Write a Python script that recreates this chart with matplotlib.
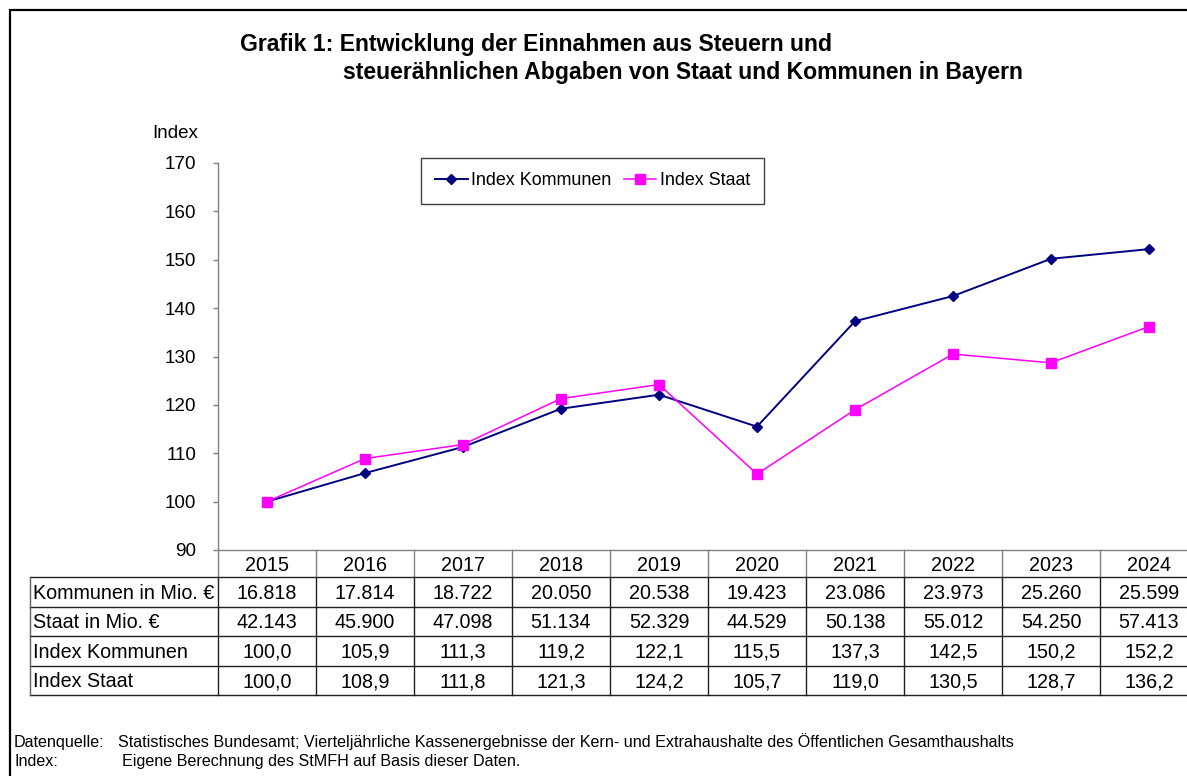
import matplotlib
matplotlib.use("Agg")
import matplotlib.pyplot as plt
from matplotlib.patches import Rectangle
from matplotlib.lines import Line2D

plt.rcParams.update({
    "font.family": ["Liberation Sans", "DejaVu Sans"],
    "font.size": 14,
})

# ── data ──────────────────────────────────────────────────────────────────────
years = [2015, 2016, 2017, 2018, 2019, 2020, 2021, 2022, 2023, 2024]
kommunen_mio = [16818, 17814, 18722, 20050, 20538, 19423, 23086, 23973, 25260, 25599]
staat_mio = [42143, 45900, 47098, 51134, 52329, 44529, 50138, 55012, 54250, 57413]
index_kommunen = [100.0, 105.9, 111.3, 119.2, 122.1, 115.5, 137.3, 142.5, 150.2, 152.2]
index_staat = [100.0, 108.9, 111.8, 121.3, 124.2, 105.7, 119.0, 130.5, 128.7, 136.2]
row_labels = ["Kommunen in Mio. €", "Staat in Mio. €", "Index Kommunen", "Index Staat"]
yticks = [90, 100, 110, 120, 130, 140, 150, 160, 170]


def fmt_mio(v):
    return f"{v:,}".replace(",", ".")


def fmt_idx(v):
    return f"{v:.1f}".replace(".", ",")


table_rows = [
    [fmt_mio(v) for v in kommunen_mio],
    [fmt_mio(v) for v in staat_mio],
    [fmt_idx(v) for v in index_kommunen],
    [fmt_idx(v) for v in index_staat],
]

# ── figure in pixel terms ────────────────────────────────────────────────────
W, H = 1187, 776
fig = plt.figure(figsize=(W / 100, H / 100), dpi=100)


def fx(px):
    return px / W


def fy(py):
    return 1 - py / H


# outer frame (cut at right/bottom like the screenshot)
fig.patches.append(Rectangle((fx(10), fy(800)), fx(1300), fy(10) - fy(800),
                             transform=fig.transFigure, fill=False,
                             edgecolor="black", linewidth=1.6))

ax_left, ax_right = 218, 1198
ax_top, ax_bottom = 163, 550
ax = fig.add_axes([fx(ax_left), fy(ax_bottom), fx(ax_right - ax_left), fy(ax_top) - fy(ax_bottom)])
ax.set_facecolor("none")

x = list(range(len(years)))
ax.plot(x, index_kommunen, color="#000080", linewidth=1.4, marker="D", markersize=5,
        label="Index Kommunen", zorder=3)
ax.plot(x, index_staat, color="#FF00FF", linewidth=1.1, marker="s", markersize=6.5,
        label="Index Staat", zorder=3)

ax.set_xlim(-0.5, len(years) - 0.5)
ax.set_ylim(90, 170)
ax.set_yticks(yticks)
ax.set_xticks([])
for s in ["top", "right"]:
    ax.spines[s].set_visible(False)
ax.spines["left"].set_color("#808080")
ax.spines["bottom"].set_color("#808080")
ax.spines["left"].set_linewidth(1.0)
ax.spines["bottom"].set_linewidth(1.0)
ax.tick_params(axis="y", direction="out", length=3.6, width=1.0, color="#808080",
               pad=12.2, labelsize=13.6)

leg = ax.legend(loc="upper left", bbox_to_anchor=(fx(421), fy(158)),
                bbox_transform=fig.transFigure, ncol=2, fancybox=False,
                edgecolor="#404040", framealpha=1, fontsize=12.9,
                handlelength=1.8, handletextpad=0.2, columnspacing=0.7,
                borderpad=0.8, borderaxespad=0)
leg.get_frame().set_linewidth(1.0)

fig.text(fx(152), fy(133), "Index", fontsize=13.5, ha="left", va="center")

# ── title ────────────────────────────────────────────────────────────────────
fig.text(fx(240), fy(44), "Grafik 1: Entwicklung der Einnahmen aus Steuern und",
         fontsize=16.6, fontweight="bold", ha="left", va="center")
fig.text(fx(343), fy(73), "steuerähnlichen Abgaben von Staat und Kommunen in Bayern",
         fontsize=16.6, fontweight="bold", ha="left", va="center")

# ── data table below the chart ───────────────────────────────────────────────
tab_left, tab_top, tab_bottom = 30, 550, 695
row_edges = [0, 27, 57, 86, 116, 145]  # pixel offsets below the axis line
col_w = (ax_right - ax_left) / len(years)
label_w = (ax_left - tab_left) / col_w
tax = fig.add_axes([fx(tab_left), fy(tab_bottom), fx(ax_right - tab_left), fy(tab_top) - fy(tab_bottom)])
tax.set_xlim(-0.5 - label_w, len(years) - 0.5)
tax.set_ylim(row_edges[-1], 0)
tax.axis("off")

x0 = -0.5 - label_w
x_end = len(years) - 0.5
lw = 1.0
body_color = "#202020"
for yy in row_edges[1:]:
    tax.add_line(Line2D([x0, x_end], [yy, yy], color=body_color, linewidth=lw, clip_on=False))
tax.add_line(Line2D([x0, x0], [row_edges[1], row_edges[-1]], color="#606060", linewidth=lw, clip_on=False))
for c in range(len(years)):
    xc = c - 0.5
    tax.add_line(Line2D([xc, xc], [0, row_edges[1]], color="#808080", linewidth=lw, clip_on=False))
    tax.add_line(Line2D([xc, xc], [row_edges[1], row_edges[-1]], color=body_color, linewidth=lw, clip_on=False))

tsize = 14.2
for c, yr in enumerate(years):
    tax.text(c, row_edges[1] - 6, str(yr), ha="center", va="baseline", fontsize=tsize)
for r, (lab, vals) in enumerate(zip(row_labels, table_rows), start=1):
    yb = row_edges[r + 1] - 8
    tax.text(x0 + 0.03, yb, lab, ha="left", va="baseline", fontsize=tsize)
    for c, v in enumerate(vals):
        tax.text(c, yb, v, ha="center", va="baseline", fontsize=tsize)

# ── footnotes ────────────────────────────────────────────────────────────────
fsize = 11.6
fig.text(fx(14), fy(747), "Datenquelle:", fontsize=fsize, ha="left", va="baseline")
fig.text(fx(118), fy(747), "Statistisches Bundesamt; Vierteljährliche Kassenergebnisse der Kern- und "
         "Extrahaushalte des Öffentlichen Gesamthaushalts", fontsize=fsize, ha="left", va="baseline")
fig.text(fx(14), fy(766), "Index:", fontsize=fsize, ha="left", va="baseline")
fig.text(fx(122), fy(766), "Eigene Berechnung des StMFH auf Basis dieser Daten.",
         fontsize=fsize, ha="left", va="baseline")

fig.savefig("out.png", dpi=100)
plt.close(fig)
